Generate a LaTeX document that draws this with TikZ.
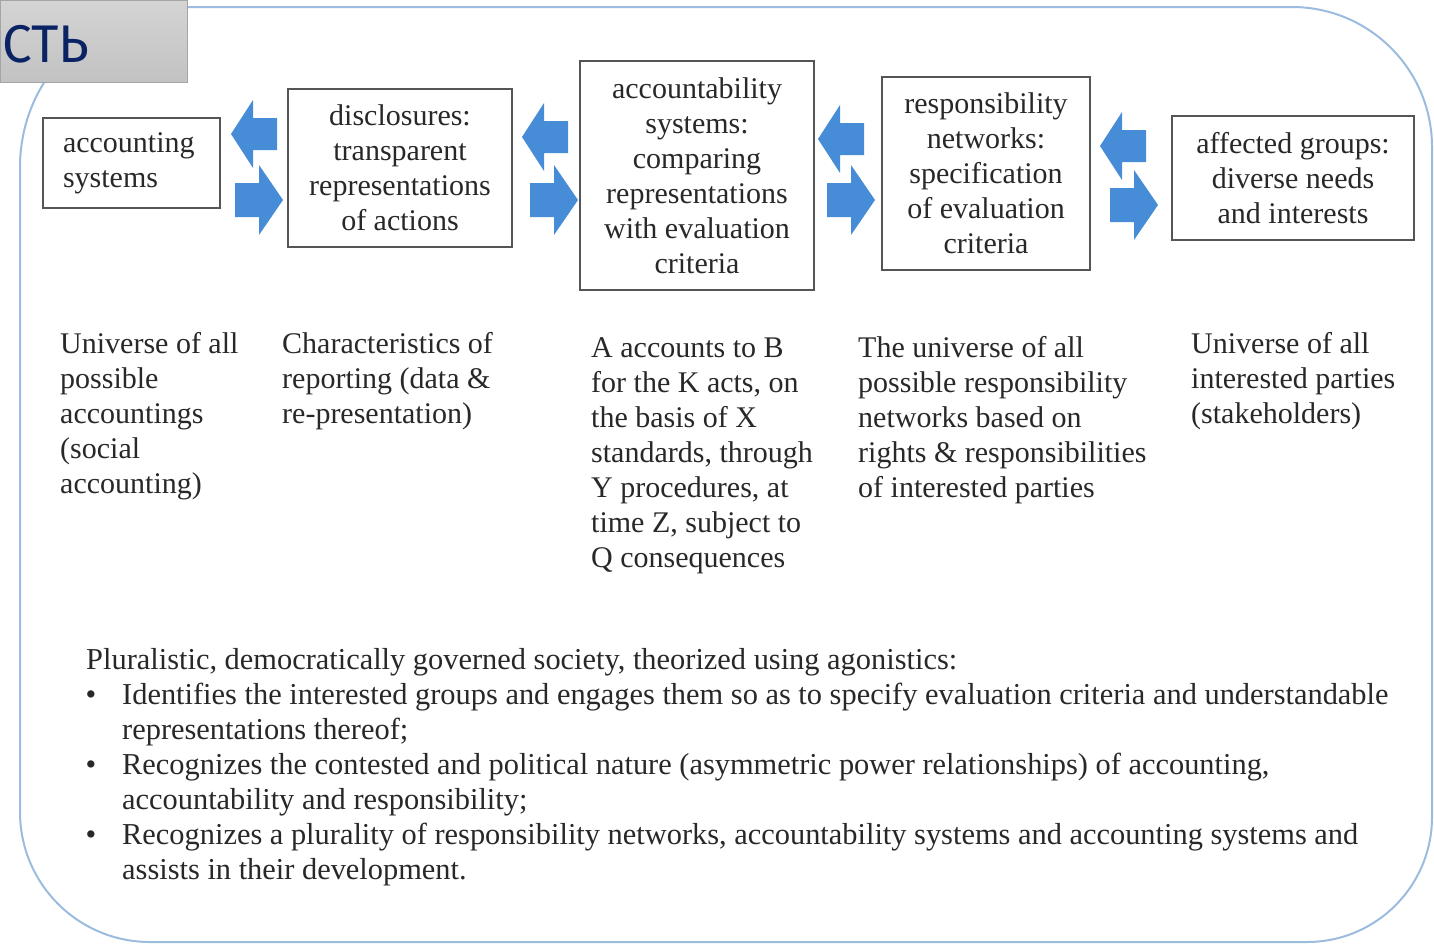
\documentclass[tikz,border=0pt]{standalone}
\usepackage{fontspec}
\setmainfont{Liberation Serif}
\newfontfamily\labelfont{Fira Sans}
\newcommand\myfont{\fontsize{30}{35}\selectfont}
\newcommand\listfont{\fontsize{30.4}{35}\selectfont}
\definecolor{txt}{RGB}{40,40,40}
\definecolor{boxgray}{RGB}{85,85,85}
\definecolor{arrowblue}{RGB}{70,140,215}
\definecolor{outline}{RGB}{155,188,222}
\definecolor{tabtext}{RGB}{10,35,100}
\begin{document}
\begin{tikzpicture}[x=1pt,y=-1pt,
  box/.style={draw=boxgray, line width=2.4pt, fill=white, inner sep=0pt, align=center, font=\myfont, text=txt},
  coltext/.style={anchor=north west, inner sep=0pt, align=left, font=\myfont, text=txt},
  listtext/.style={coltext, font=\listfont},
  bul/.style={anchor=base, inner sep=0pt, font=\listfont, text=txt},
  blockarrow/.style={fill=arrowblue}]
\useasboundingbox (0,0) rectangle (1434,945);
% outer rounded frame
\draw[outline, line width=2pt]
  (180,7) -- (1292,7)
  .. controls (1369.3,7) and (1432,69.7) .. (1432,147)
  -- (1432,817)
  .. controls (1432,886) and (1376,942) .. (1307,942)
  -- (150,942)
  .. controls (78.2,942) and (20,883.8) .. (20,812)
  -- (20,167)
  .. controls (20,78.6) and (91.6,7) .. (180,7);
% tab
\node[draw={rgb,255:red,165;green,165;blue,165}, line width=1.2pt, top color={rgb,255:red,212;green,212;blue,212}, bottom color={rgb,255:red,194;green,194;blue,194}, minimum width=187pt, minimum height=82pt, inner sep=0pt, anchor=north west] (tab) at (0,0) {};
\node[anchor=base west, inner sep=0pt, text=tabtext, font={\labelfont\fontsize{53}{60}\selectfont}] (tablabel) at (2,62) {СТЬ};
% boxes
\node[box, minimum width=177pt, minimum height=90pt, align=left, text width=137pt] (b1) at (131.5,163) {accounting\\systems};
\node[box, minimum width=224pt, minimum height=158pt] (b2) at (400,168) {disclosures:\\transparent\\representations\\of actions};
\node[box, minimum width=234pt, minimum height=229pt] (b3) at (697,175.5) {accountability\\systems:\\comparing\\representations\\with evaluation\\criteria};
\node[box, minimum width=208pt, minimum height=193pt] (b4) at (986,173.5) {responsibility\\networks:\\specification\\of evaluation\\criteria};
\node[box, minimum width=242pt, minimum height=124pt] (b5) at (1293,178) {affected groups:\\diverse needs\\and interests};
% block arrows (left-pointing: tip; right-pointing: tail)
\foreach \tx/\cy in {231/134, 522/137, 818/139, 1100/146}{
  \fill[blockarrow, shift={(\tx,\cy)}] (0,0) -- (22,-34) -- (22,-16) -- (46,-16) -- (46,16) -- (22,16) -- (22,34) -- cycle;
}
\foreach \sx/\cy in {235/200, 530/200, 827/200, 1110/205}{
  \fill[blockarrow, shift={(\sx,\cy)}] (0,-17) -- (24,-17) -- (24,-35) -- (48,0) -- (24,35) -- (24,17) -- (0,17) -- cycle;
}
% column texts
\node[coltext] (c1) at (60,328.5) {\strut Universe of all\\possible\\accountings\\(social\\accounting)};
\node[coltext] (c2) at (282,328.5) {\strut Characteristics of\\reporting (data \&\\re-presentation)};
\node[coltext] (c3) at (591,332.5) {\strut A accounts to B\\for the K acts, on\\the basis of X\\standards, through\\Y procedures, at\\time Z, subject to\\Q consequences};
\node[coltext] (c4) at (858,332.5) {\strut The universe of all\\possible responsibility\\networks based on\\rights \& responsibilities\\of interested parties};
\node[coltext] (c5) at (1191,328.5) {\strut Universe of all\\interested parties\\(stakeholders)};
% bottom text
\node[listtext] (intro) at (86,644.5) {\strut Pluralistic, democratically governed society, theorized using agonistics:};
\node[bul] (d1) at (91,704) {•};
\node[listtext] (i1) at (122,679.5) {\strut Identifies the interested groups and engages them so as to specify evaluation criteria and understandable\\representations thereof;};
\node[bul] (d2) at (91,774) {•};
\node[listtext] (i2) at (122,749.5) {\strut Recognizes the contested and political nature (asymmetric power relationships) of accounting,\\accountability and responsibility;};
\node[bul] (d3) at (91,844) {•};
\node[listtext] (i3) at (122,819.5) {\strut Recognizes a plurality of responsibility networks, accountability systems and accounting systems and\\assists in their development.};
\end{tikzpicture}
\end{document}
